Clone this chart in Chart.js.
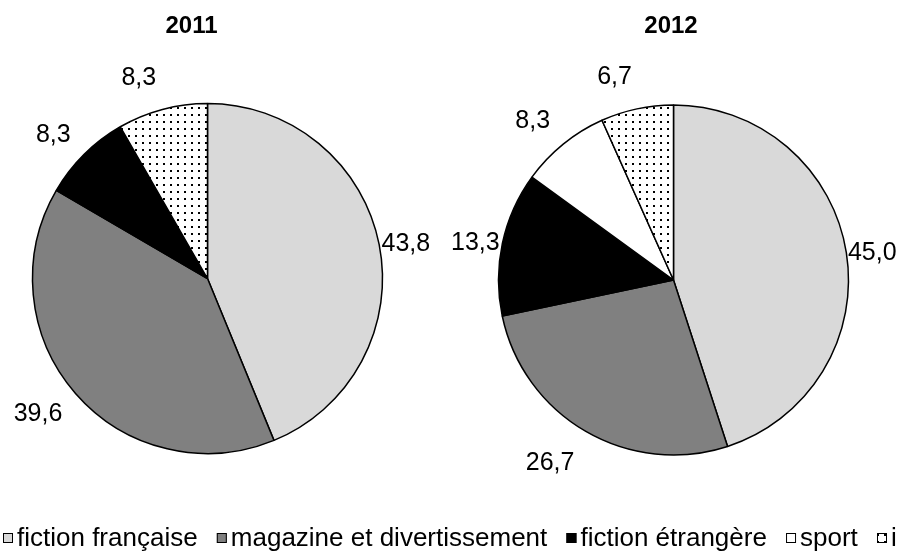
<!DOCTYPE html>
<html><head><meta charset="utf-8">
<script src="https://cdn.jsdelivr.net/npm/chart.js@4"></script>
<style>
html,body{margin:0;padding:0;background:#fff;}
#wrap{position:relative;width:898px;height:554px;overflow:hidden;background:#fff;}
#wrap canvas{position:absolute;left:0;top:0;}
</style></head>
<body>
<div id="wrap">
<canvas id="c2011" width="898" height="554"></canvas>
<canvas id="c2012" width="898" height="554"></canvas>
</div>
<script>
// ---- data ----
const categories = ['fiction française', 'magazine et divertissement', 'fiction étrangère', 'sport', 'information'];
const years = ['2011', '2012'];
const values2011 = [43.8, 39.6, 8.3, 0, 8.3];
const values2012 = [45.0, 26.7, 13.3, 8.3, 6.7];

// ---- styles ----
const FONT = '"Liberation Sans", Arial, Helvetica, sans-serif';
function dotPattern(ctx) {
  const t = document.createElement('canvas');
  t.width = 7; t.height = 7;
  const c = t.getContext('2d');
  c.fillStyle = '#fff'; c.fillRect(0, 0, 7, 7);
  c.fillStyle = '#000'; c.fillRect(2, 2, 2, 2);
  return ctx.createPattern(t, 'repeat');
}
function fills(ctx) {
  return ['#d9d9d9', '#808080', '#000000', '#ffffff', dotPattern(ctx)];
}
const fmt = v => v.toFixed(1).replace('.', ',');

// outside labels, placed from each arc's own geometry
const outLabels = {
  id: 'outLabels',
  afterDatasetsDraw(chart) {
    const ctx = chart.ctx;
    const meta = chart.getDatasetMeta(0);
    const data = chart.data.datasets[0].data;
    const fs = 25;
    ctx.save();
    ctx.font = fs + 'px ' + FONT;
    ctx.fillStyle = '#000';
    ctx.textAlign = 'center';
    ctx.textBaseline = 'alphabetic';
    meta.data.forEach((arc, i) => {
      const v = data[i];
      if (!v) return;
      const p = arc.getProps(['x', 'y', 'startAngle', 'endAngle', 'outerRadius'], true);
      const mid = (p.startAngle + p.endAngle) / 2;
      const ux = Math.cos(mid), uy = Math.sin(mid);
      const a = Math.abs(uy);
      const g = 24 * a * a * (3 - 2 * a);
      const ax = p.x + ux * (p.outerRadius + g);
      const ay = p.y + uy * (p.outerRadius + g);
      const txt = fmt(v);
      const w = ctx.measureText(txt).width;
      const h = 22;
      const cx = ax + Math.sign(ux) * w / 2;
      const cy = ay + uy * h / 2;
      ctx.fillText(txt, cx, cy + 0.358 * fs);
    });
    ctx.restore();
  }
};

const yearTitle = {
  id: 'yearTitle',
  afterDraw(chart, args, opts) {
    const ctx = chart.ctx;
    ctx.save();
    ctx.font = 'bold 24px ' + FONT;
    ctx.fillStyle = '#000';
    ctx.textAlign = 'center';
    ctx.textBaseline = 'alphabetic';
    ctx.fillText(opts.text, opts.x, opts.y);
    ctx.restore();
  }
};

const bottomLegend = {
  id: 'bottomLegend',
  afterDraw(chart, args, opts) {
    if (!opts.show) return;
    const ctx = chart.ctx;
    const bg = chart.data.datasets[0].backgroundColor;
    const labels = chart.data.labels;
    const fs = 26;
    ctx.save();
    ctx.font = fs + 'px ' + FONT;
    ctx.textBaseline = 'alphabetic';
    ctx.textAlign = 'left';
    const box = 10, boxGap = 4;
    const widths = labels.map(l => ctx.measureText(l).width);
    const firstText = 17, lastText = 891;
    let inner = 0;
    for (let i = 0; i < labels.length - 1; i++) inner += widths[i];
    const sep = (lastText - firstText - inner) / (labels.length - 1);
    let tx = firstText;
    const base = 546;
    labels.forEach((l, i) => {
      const bx = tx - boxGap - box;
      ctx.fillStyle = bg[i];
      ctx.fillRect(bx, base - 13, box, box);
      ctx.strokeStyle = '#000';
      ctx.lineWidth = 1;
      ctx.strokeRect(bx + 0.5, base - 12.5, box - 1, box - 1);
      ctx.fillStyle = '#000';
      ctx.fillText(l, tx, base);
      tx += widths[i] + sep;
    });
    ctx.restore();
  }
};

function makeChart(id, values, padding, title, showLegend) {
  const canvas = document.getElementById(id);
  const ctx = canvas.getContext('2d');
  return new Chart(ctx, {
    type: 'pie',
    data: {
      labels: categories,
      datasets: [{
        data: values,
        backgroundColor: fills(ctx),
        borderColor: '#000',
        borderWidth: 1.5,
        radius: 175
      }]
    },
    options: {
      responsive: false,
      animation: false,
      devicePixelRatio: 1,
      events: [],
      layout: { padding },
      plugins: {
        legend: { display: false },
        tooltip: { enabled: false },
        title: { display: false },
        yearTitle: title,
        bottomLegend: { show: showLegend }
      }
    },
    plugins: [outLabels, yearTitle, bottomLegend]
  });
}

makeChart('c2011', values2011, { left: 0, right: 483, top: 104, bottom: 101 },
  { text: years[0], x: 191.5, y: 33 }, true);
makeChart('c2012', values2012, { left: 449, right: 0, top: 105, bottom: 99 },
  { text: years[1], x: 671, y: 33 }, false);
</script>
</body></html>
